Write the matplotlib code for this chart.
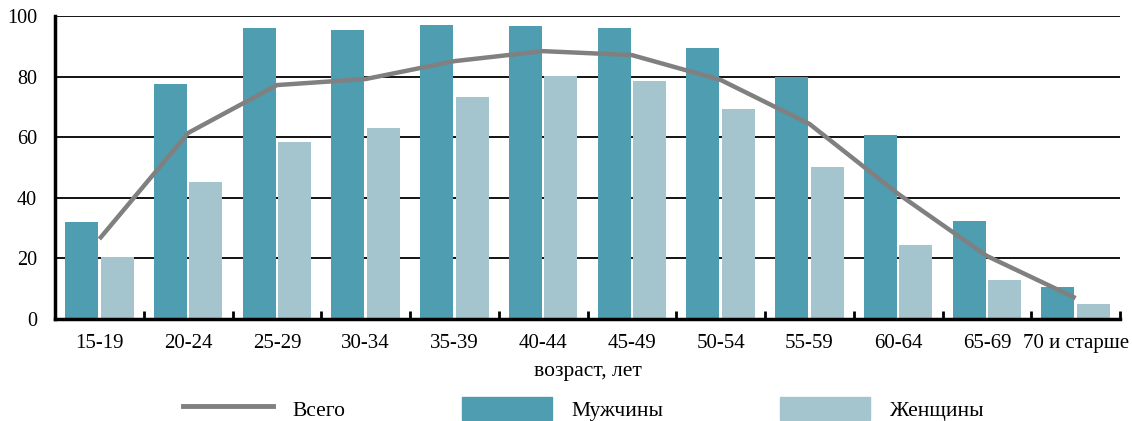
import matplotlib.pyplot as plt
import numpy as np
from matplotlib.patches import Patch
from matplotlib.lines import Line2D

plt.rcParams['font.family'] = ['Liberation Serif', 'DejaVu Serif']

# возрастные группы
groups = ['15-19', '20-24', '25-29', '30-34', '35-39', '40-44', '45-49',
          '50-54', '55-59', '60-64', '65-69', '70 и старше']
men = [32.0, 77.6, 96.0, 95.4, 97.0, 96.7, 96.0, 89.4, 79.9, 60.7, 32.3, 10.6]
women = [20.5, 45.2, 58.4, 63.0, 73.3, 80.2, 78.5, 69.3, 50.2, 24.4, 12.9, 5.0]
total = [26.4, 61.4, 77.2, 79.2, 85.1, 88.4, 87.1, 78.9, 64.4, 41.3, 20.8, 6.9]

c_men = '#4f9db1'
c_women = '#a5c5ce'
c_total = '#808080'

fig = plt.figure(figsize=(11.32, 4.21), dpi=100)
ax = fig.add_axes([0.0486, 0.2423, 0.9408, 0.7197])

x = np.arange(len(groups))
w = 0.37
ax.bar(x - 0.2, men, w, color=c_men, zorder=2)
ax.bar(x + 0.2, women, w, color=c_women, zorder=2)
ax.plot(x, total, color=c_total, lw=3.2, zorder=3, solid_capstyle='butt')

ax.set_xlim(-0.5, len(groups) - 0.5)
ax.set_ylim(0, 100)
ax.set_yticks(np.arange(0, 101, 20))
ax.yaxis.grid(True, color='black', lw=1.3, zorder=1)
ax.set_axisbelow(True)

ax.set_xticks(x)
ax.set_xticklabels(groups)
ax.set_xticks(np.arange(0.5, len(groups) - 0.5 + 0.01, 1), minor=True)
ax.tick_params(axis='x', which='major', length=0, pad=11, labelsize=15)
ax.tick_params(axis='x', which='minor', direction='in', length=6, width=2)
ax.tick_params(axis='y', length=0, pad=13, labelsize=14.5)

for s in ['top', 'right']:
    ax.spines[s].set_visible(False)
ax.spines['left'].set_linewidth(2.5)
ax.spines['bottom'].set_linewidth(2.5)

ax.set_xlabel('возраст, лет', fontsize=15.5, labelpad=6)

handles = [Line2D([], [], color=c_total, lw=3.5),
           Patch(color=c_men), Patch(color=c_women)]
fig.legend(handles, ['Всего', 'Мужчины', 'Женщины'], loc='lower center',
           bbox_to_anchor=(0.515, -0.045), ncol=3, frameon=False, fontsize=15.5,
           handlelength=4.2, handleheight=1.3, handletextpad=0.9,
           columnspacing=5.4)

fig.savefig('out.png', dpi=100)
